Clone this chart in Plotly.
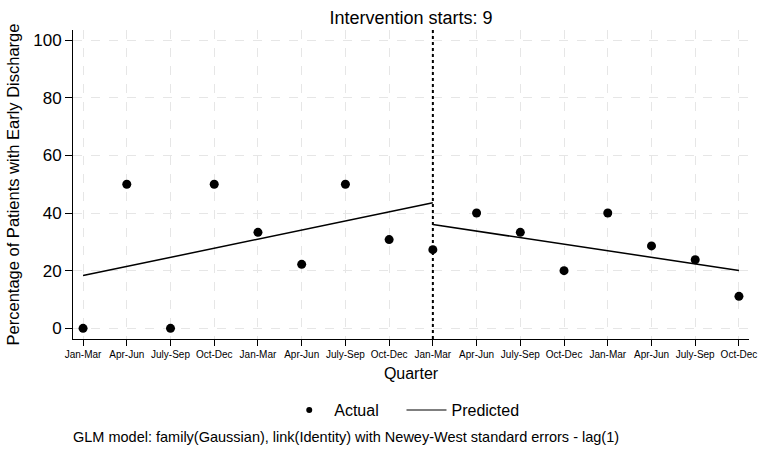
import plotly.graph_objects as go

quarters = ["Jan-Mar", "Apr-Jun", "July-Sep", "Oct-Dec"] * 4
time_index = list(range(1, 17))
actual = [0, 50, 0, 50, 33.3, 22.2, 50, 30.8, 27.3, 40, 33.3, 20, 40, 28.6, 23.8, 11.1]
pre_x = [1, 9]
pre_pred = [18.3, 43.6]
post_x = [9, 16]
post_pred = [36.0, 20.1]
intervention = 9

font = "Liberation Sans, Arial, sans-serif"

fig = go.Figure()
fig.add_trace(go.Scatter(x=time_index, y=actual, mode="markers", name="Actual",
                         showlegend=False, marker=dict(color="black", size=9)))
fig.add_trace(go.Scatter(x=pre_x, y=pre_pred, mode="lines", name="Predicted",
                         showlegend=False, line=dict(color="black", width=1.5)))
fig.add_trace(go.Scatter(x=post_x, y=post_pred, mode="lines", name="Predicted",
                         showlegend=False, line=dict(color="black", width=1.5)))
# legend entries
fig.add_trace(go.Scatter(x=[None], y=[None], mode="markers", name="Actual\u00a0\u00a0\u00a0\u00a0",
                         marker=dict(color="black", size=6)))
fig.add_trace(go.Scatter(x=[None], y=[None], mode="lines", name="Predicted",
                         line=dict(color="black", width=1.2)))

fig.add_shape(type="line", x0=intervention, x1=intervention, xref="x", yref="paper",
              y0=0, y1=1, line=dict(color="black", width=2, dash="dot"))

fig.update_layout(
    width=769, height=451,
    margin=dict(l=73, r=14, t=30, b=112),
    paper_bgcolor="white", plot_bgcolor="white",
    font=dict(family=font, color="black"),
    title=dict(text="Intervention starts: 9", x=0.5, xref="paper", xanchor="center",
               y=1, yref="paper", yanchor="bottom", pad=dict(b=6),
               font=dict(size=18, family=font, color="black")),
    showlegend=True,
    legend=dict(orientation="h", x=0.49, xanchor="center", y=-0.175, yanchor="top",
                font=dict(size=16, family=font), itemwidth=40,
                bgcolor="rgba(0,0,0,0)"),
    xaxis=dict(range=[0.77, 16.23], tickvals=time_index, ticktext=quarters,
               tickfont=dict(size=10, family=font), ticks="outside", ticklen=6,
               tickcolor="black", showline=True, linecolor="black", linewidth=1,
               showgrid=True, gridcolor="#e6e6e6", griddash="dash", gridwidth=1,
               zeroline=False,
               title=dict(text="Quarter", font=dict(size=16, family=font), standoff=8)),
    yaxis=dict(range=[-3.7, 103.5], tickvals=[0, 20, 40, 60, 80, 100],
               tickfont=dict(size=17, family=font), ticks="outside", ticklen=7,
               tickcolor="black", showline=True, linecolor="black", linewidth=1,
               showgrid=True, gridcolor="#e6e6e6", griddash="dash", gridwidth=1,
               zeroline=False,
               title=dict(text="Percentage of Patients with Early Discharge",
                          font=dict(size=16.5, family=font), standoff=9)),
)

fig.add_annotation(text="GLM model: family(Gaussian), link(Identity) with Newey-West standard errors - lag(1)",
                   x=0, xref="paper", xanchor="left", xshift=-2, y=-0.318, yref="paper", yanchor="middle",
                   showarrow=False, font=dict(size=14.5, family=font, color="black"))

fig.write_html("out.html", config={"displayModeBar": False},
               post_script="document.body.style.margin='0';")
